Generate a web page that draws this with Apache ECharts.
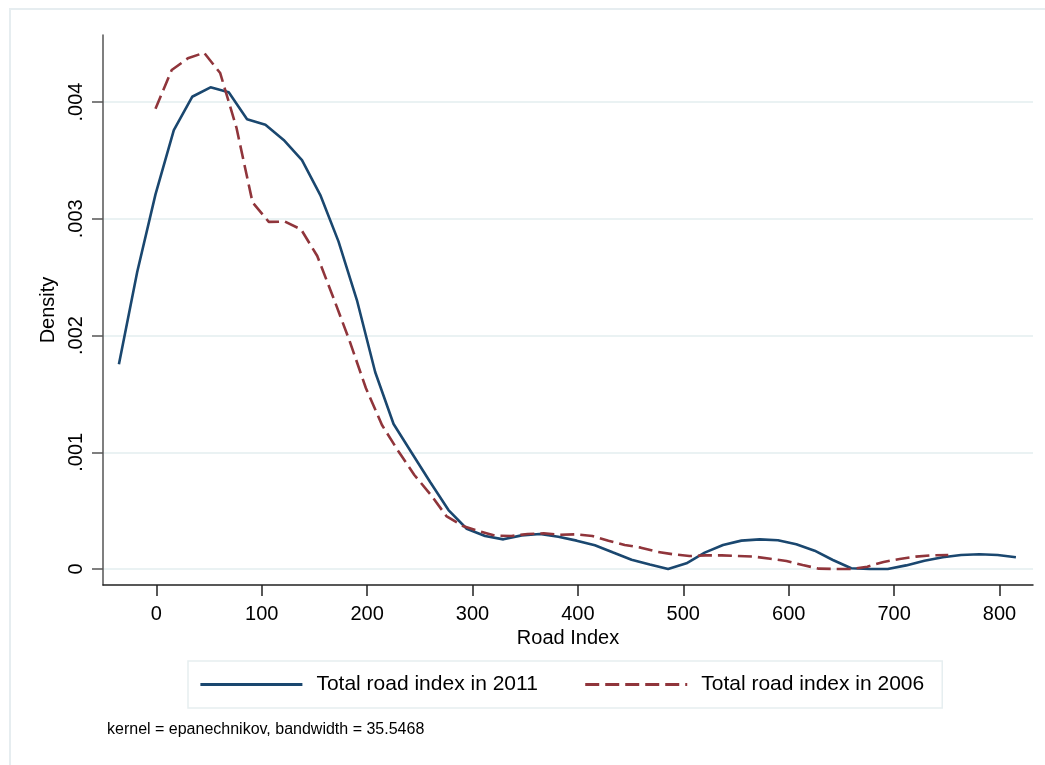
<!DOCTYPE html>
<html>
<head>
<meta charset="utf-8">
<script src="https://cdn.jsdelivr.net/npm/echarts@6/dist/echarts.min.js"></script>
<style>html,body{margin:0;padding:0;background:#fff;}#chart{width:1045px;height:765px;}</style>
</head>
<body>
<div id="chart"></div>
<script>
// Road index evaluation points and densities
var x2011 = [-35.5, -18.1, -0.8, 16.6, 34.0, 51.4, 68.7, 86.1, 103.5, 120.8,
  138.2, 155.6, 172.9, 190.3, 207.7, 225.1, 242.4, 259.8, 277.2, 294.5,
  311.9, 329.3, 346.6, 364.0, 381.4, 398.8, 416.1, 433.5, 450.9, 468.2,
  485.6, 503.0, 520.3, 537.7, 555.1, 572.5, 589.8, 607.2, 624.6, 641.9,
  659.3, 676.7, 694.0, 711.4, 728.8, 746.2, 763.5, 780.9, 798.3, 815.6];
var y2011 = [0.001753, 0.002546, 0.003209, 0.003760, 0.004045, 0.004126, 0.004083, 0.003852, 0.003806, 0.003675,
  0.003503, 0.003203, 0.002804, 0.002304, 0.001685, 0.001242, 0.000994, 0.000745, 0.000505, 0.000345,
  0.000283, 0.000254, 0.000288, 0.000300, 0.000277, 0.000243, 0.000203, 0.000141, 0.000080, 0.000039,
  0.000000, 0.000049, 0.000140, 0.000206, 0.000243, 0.000254, 0.000246, 0.000212, 0.000157, 0.000077,
  0.000006, 0.000000, 0.000000, 0.000031, 0.000071, 0.000100, 0.000120, 0.000126, 0.000120, 0.000100];
var x2006 = [-0.8, 14.6, 29.9, 45.3, 60.6, 76.0, 91.3, 106.7, 122.0, 137.4,
  152.7, 168.1, 183.4, 198.8, 214.1, 229.5, 244.8, 260.2, 275.5, 290.9,
  306.2, 321.6, 336.9, 352.3, 367.6, 383.0, 398.3, 413.7, 429.0, 444.4,
  459.7, 475.1, 490.4, 505.8, 521.1, 536.5, 551.8, 567.2, 582.5, 597.9,
  613.2, 628.6, 643.9, 659.3, 674.6, 690.0, 705.3, 720.7, 736.0, 751.4];
var y2006 = [0.003943, 0.004274, 0.004374, 0.004422, 0.004248, 0.003781, 0.003140, 0.002973, 0.002976, 0.002908,
  0.002681, 0.002321, 0.001953, 0.001550, 0.001233, 0.001011, 0.000805, 0.000638, 0.000450, 0.000368,
  0.000325, 0.000285, 0.000283, 0.000300, 0.000306, 0.000294, 0.000297, 0.000283, 0.000243, 0.000206,
  0.000183, 0.000148, 0.000126, 0.000111, 0.000117, 0.000117, 0.000111, 0.000106, 0.000088, 0.000069,
  0.000034, 0.000003, 0.000000, 0.000000, 0.000020, 0.000060, 0.000086, 0.000106, 0.000117, 0.000120];
var xTicks = [0, 100, 200, 300, 400, 500, 600, 700, 800];
var yTicks = [0, 0.001, 0.002, 0.003, 0.004];
var seriesNames = ['Total road index in 2011', 'Total road index in 2006'];
var noteText = 'kernel = epanechnikov, bandwidth = 35.5468';

function pairs(xs, ys) { return xs.map(function (x, i) { return [x, ys[i]]; }); }

var FONT = '"Liberation Sans", Arial, Helvetica, sans-serif';
var chart = echarts.init(document.getElementById('chart'), null, {renderer: 'canvas'});
chart.setOption({
  animation: false,
  backgroundColor: '#ffffff',
  grid: {left: 103, right: 12, top: 35, bottom: 180, containLabel: false},
  xAxis: {
    type: 'value', min: -50.6, max: 831.8,
    name: 'Road Index', nameLocation: 'middle', nameGap: 38,
    nameTextStyle: {color: '#000', fontSize: 20, fontFamily: FONT},
    axisLine: {show: true, onZero: false, lineStyle: {color: '#222', width: 1.5}},
    axisTick: {show: true, length: 11, customValues: xTicks, lineStyle: {color: '#222', width: 1.5}},
    axisLabel: {customValues: xTicks, margin: 19, color: '#000', fontSize: 20, fontFamily: FONT},
    splitLine: {show: false}
  },
  yAxis: {
    type: 'value', min: -0.000137, max: 0.004574,
    name: 'Density', nameLocation: 'middle', nameGap: 33, nameRotate: 90,
    nameTextStyle: {color: '#000', fontSize: 20, fontFamily: FONT},
    axisLine: {show: true, onZero: false, lineStyle: {color: '#555', width: 1.5}},
    axisTick: {show: true, length: 11, customValues: yTicks, lineStyle: {color: '#555', width: 1.5}},
    axisLabel: {customValues: yTicks, margin: 17, rotate: 90, color: '#000', fontSize: 20, fontFamily: FONT,
      formatter: function (v) { return v === 0 ? '0' : String(+v.toFixed(6)).replace(/^0/, ''); }},
    splitLine: {show: true, lineStyle: {color: '#eaf2f3', width: 2}}
  },
  legend: {
    left: 188, top: 661,
    padding: [13, 18, 13, 11],
    itemWidth: 102, itemHeight: 20, itemGap: 46,
    borderColor: '#e6eef0', borderWidth: 1.5, backgroundColor: '#fff',
    itemStyle: {opacity: 0},
    lineStyle: {width: 2.8},
    textStyle: {color: '#000', fontSize: 21, fontFamily: FONT, padding: [0, 0, 0, 9]},
    data: seriesNames
  },
  graphic: [
    {type: 'rect', silent: true, z: -10, shape: {x: 10, y: 9, width: 1100, height: 800},
      style: {fill: 'none', stroke: '#e6edf0', lineWidth: 2}},
    {type: 'text', left: 107, top: 722,
      style: {text: noteText, fill: '#000', fontSize: 16, fontFamily: FONT}}
  ],
  series: [
    {name: seriesNames[0], type: 'line', data: pairs(x2011, y2011), symbol: 'none', smooth: false,
      lineStyle: {color: '#1a476f', width: 2.6}, itemStyle: {color: '#1a476f'}},
    {name: seriesNames[1], type: 'line', data: pairs(x2006, y2006), symbol: 'none', smooth: false,
      lineStyle: {color: '#90353b', width: 2.6, type: [14, 6]}, itemStyle: {color: '#90353b'}}
  ]
});
</script>
</body>
</html>
